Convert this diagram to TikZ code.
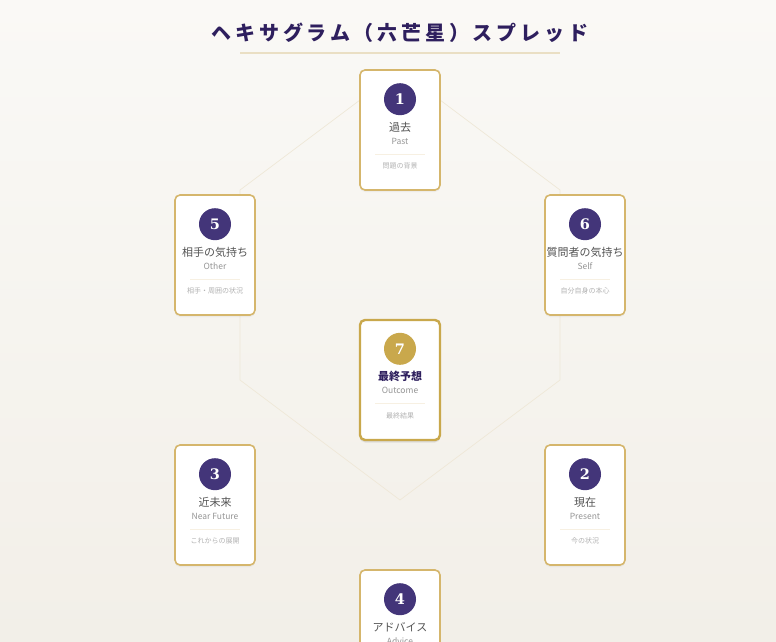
\documentclass[tikz,border=0pt]{standalone}
\usepackage{fontspec}
\newfontfamily\jpfont{Noto Sans CJK JP}
\newfontfamily\jptitlefont[LetterSpace=19]{Noto Sans CJK JP}
\newfontfamily\numfont{DejaVu Serif}
\usetikzlibrary{shadows}
\definecolor{bgtop}{HTML}{FAF9F6}
\definecolor{bgbottom}{HTML}{F2EFE8}
\definecolor{spreadpurple}{HTML}{433579}
\definecolor{titlepurple}{HTML}{2E1F5E}
\definecolor{cardgold}{HTML}{D5B66C}
\definecolor{outcomegold}{HTML}{C9A84C}
\definecolor{hexcolor}{HTML}{EFE8D8}
\definecolor{linegold}{HTML}{EADFC4}
\definecolor{dividercolor}{HTML}{F7F0E2}
\tikzset{
  card/.style={draw=cardgold, line width=1.6pt, fill=white, rounded corners=5pt,
    minimum width=80pt, minimum height=120pt,
    drop shadow={opacity=0.08, shadow xshift=0pt, shadow yshift=-2pt}},
  numdot/.style={circle, fill=spreadpurple, minimum size=32pt, inner sep=0pt,
    text=white, font=\numfont\bfseries\fontsize{14.5}{15}\selectfont},
  cardtitle/.style={inner sep=0pt, text=black!67, font=\jpfont\fontsize{11}{12}\selectfont},
  cardsub/.style={inner sep=0pt, text=black!42, font=\jpfont\fontsize{8.5}{10}\selectfont},
  cardnote/.style={inner sep=0pt, text=black!30, font=\jpfont\fontsize{7}{8}\selectfont},
  divider/.style={draw=dividercolor, line width=1.2pt},
  hexline/.style={draw=hexcolor, line width=0.7pt}
}
\begin{document}
\begin{tikzpicture}[x=1pt,y=-1pt]
\shade[top color=bgtop, bottom color=bgbottom] (0,0) rectangle (776,642);
\useasboundingbox (0,0) rectangle (776,642);

% title
\node[text=titlepurple, font=\jptitlefont\bfseries\fontsize{20}{24}\selectfont] (title) at (400,33) {ヘキサグラム（六芒星）スプレッド};
\draw[draw=linegold, line width=1.5pt] (240,53) -- (560,53);

% hexagon behind the cards
\coordinate (hexN) at (400,70);
\coordinate (hexNE) at (560,190);
\coordinate (hexSE) at (560,380);
\coordinate (hexS) at (400,500);
\coordinate (hexSW) at (240,380);
\coordinate (hexNW) at (240,190);
\draw[hexline] (hexN) -- (hexNE) -- (hexSE) -- (hexS) -- (hexSW) -- (hexNW) -- cycle;

% cards
\foreach \n/\x/\y/\jp/\en/\note in {
    1/400/130/過去/Past/問題の背景,
    5/215/255/相手の気持ち/Other/相手・周囲の状況,
    6/585/255/質問者の気持ち/Self/自分自身の本心,
    3/215/505/近未来/Near Future/これからの展開,
    2/585/505/現在/Present/今の状況,
    4/400/630/アドバイス/Advice/} {
  \node[card] (card\n) at (\x,\y) {};
  \node[numdot] (num\n) at ([yshift=-30pt]card\n.north) {\n};
  \node[cardtitle] (jp\n) at ([yshift=-58pt]card\n.north) {\jp};
  \node[cardsub] (en\n) at ([yshift=-72pt]card\n.north) {\en};
  \draw[divider] ([xshift=-25pt,yshift=-85pt]card\n.north) -- ([xshift=25pt,yshift=-85pt]card\n.north);
  \node[cardnote] (note\n) at ([yshift=-97pt]card\n.north) {\note};
}

% outcome card in the middle
\node[card, draw=outcomegold, line width=2.4pt,
  drop shadow={opacity=0.14, shadow xshift=0pt, shadow yshift=-2.5pt}] (card7) at (400,380) {};
\node[numdot, fill=outcomegold] (num7) at ([yshift=-30pt]card7.north) {7};
\node[cardtitle, text=titlepurple, font=\jpfont\bfseries\fontsize{11}{12}\selectfont] (jp7) at ([yshift=-58pt]card7.north) {最終予想};
\node[cardsub] (en7) at ([yshift=-72pt]card7.north) {Outcome};
\draw[divider] ([xshift=-25pt,yshift=-85pt]card7.north) -- ([xshift=25pt,yshift=-85pt]card7.north);
\node[cardnote] (note7) at ([yshift=-97pt]card7.north) {最終結果};
\end{tikzpicture}
\end{document}
